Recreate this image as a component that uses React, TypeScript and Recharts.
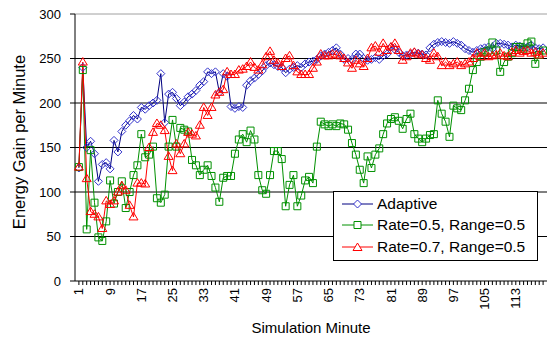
import React from 'react';
import { LineChart, Line, XAxis, YAxis, ReferenceLine } from 'recharts';

const minutes: number[] = Array.from({ length: 120 }, (_, i) => i + 1);
const xTickLabels = [1, 9, 17, 25, 33, 41, 49, 57, 65, 73, 81, 89, 97, 105, 113];
const yTicks = [0, 50, 100, 150, 200, 250, 300];

const adaptive = [
  127, 240, 150, 157, 143, 112, 131, 133, 126, 158,
  145, 168, 175, 180, 186, 182, 195, 193, 197, 200,
  203, 233, 178, 210, 212, 205, 197, 201, 207, 210,
  214, 220, 224, 235, 233, 235, 212, 233, 230, 196,
  194, 196, 195, 220, 225, 228, 232, 236, 242, 245,
  243, 241, 240, 234, 238, 240, 242, 240, 244, 246,
  247, 249, 253, 255, 257, 259, 262, 255, 249, 250,
  249, 255, 255, 250, 248, 249, 251, 249, 253, 255,
  263, 260, 257, 253, 254, 255, 257, 256, 255, 254,
  262, 266, 268, 269, 268, 267, 269, 267, 265, 261,
  259, 257, 259, 261, 262, 263, 261, 267, 267, 266,
  265, 263, 265, 264, 263, 263, 265, 262, 261, 262,
];

const rate05 = [
  128, 237, 58, 147, 88, 49, 45, 67, 113, 87,
  100, 112, 82, 100, 119, 130, 165, 139, 142, 151,
  93, 88, 97, 151, 181, 151, 172, 170, 168, 136,
  130, 119, 125, 130, 118, 105, 89, 116, 118, 118,
  143, 159, 165, 156, 169, 159, 119, 102, 98, 119,
  146, 146, 137, 84, 108, 119, 84, 96, 113, 117,
  110, 151, 179, 176, 174, 176, 174, 177, 176, 170,
  155, 142, 125, 110, 140, 127, 142, 149, 165, 177,
  182, 184, 180, 171, 182, 188, 165, 160, 156, 160,
  164, 165, 203, 188, 179, 162, 197, 194, 192, 203,
  216, 237, 246, 252, 257, 259, 268, 259, 235, 246,
  252, 256, 263, 263, 261, 267, 269, 244, 254, 259,
];

const rate07 = [
  128, 246, 115, 78, 75, 72, 59, 90, 86, 90,
  100, 107, 102, 85, 72, 110, 110, 109, 150, 167,
  177, 175, 169, 140, 124, 154, 143, 154, 167, 165,
  163, 175, 195, 186, 195, 209, 212, 215, 235, 232,
  232, 237, 238, 241, 246, 240, 237, 243, 252, 258,
  248, 245, 241, 250, 253, 242, 235, 232, 232, 232,
  239, 246, 255, 253, 253, 255, 254, 253, 250, 245,
  239, 248, 244, 241, 250, 262, 264, 257, 267, 259,
  263, 267, 259, 248, 252, 256, 257, 255, 254, 250,
  248, 256, 252, 242, 246, 242, 244, 246, 242, 244,
  246, 250, 256, 252, 256, 252, 253, 254, 256, 253,
  252, 257, 259, 256, 258, 259, 256, 257, 254, 256,
];

const seriesNames = ['Adaptive', 'Rate=0.5, Range=0.5', 'Rate=0.7, Range=0.5'];

const data = minutes.map((m, i) => ({
  minute: m,
  adaptive: adaptive[i],
  rate05: rate05[i],
  rate07: rate07[i],
}));

const FONT = '"Liberation Sans", Arial, sans-serif';
const BLUE_LINE = '#000080';
const BLUE_MARK = '#3333cc';
const GREEN = '#009000';
const RED = '#ff0000';

const diamondPath = (cx: number, cy: number) =>
  `M${cx},${cy - 4}L${cx + 4},${cy}L${cx},${cy + 4}L${cx - 4},${cy}Z`;
const squarePath = (cx: number, cy: number) =>
  `M${cx - 3.5},${cy - 3.5}h7v7h-7Z`;
const trianglePath = (cx: number, cy: number) =>
  `M${cx},${cy - 4.5}L${cx + 4.5},${cy + 3}L${cx - 4.5},${cy + 3}Z`;

const makeDot = (fn: (cx: number, cy: number) => string, color: string, prefix: string) =>
  (props: any) => {
    const { cx, cy, index } = props;
    if (cx == null || cy == null) return <g key={`${prefix}${index}`} />;
    return <path key={`${prefix}${index}`} d={fn(cx, cy)} fill="none" stroke={color} strokeWidth={1} />;
  };

const XTick = (props: any) => {
  const { x, y, payload } = props;
  const v = payload.value;
  if (!xTickLabels.includes(v)) return <g />;
  const ty = y + 1;
  return (
    <text
      x={x}
      y={ty}
      transform={`rotate(-90, ${x}, ${ty})`}
      textAnchor="end"
      dy="0.35em"
      fontSize={13}
      fontFamily={FONT}
      fill="#000"
    >
      {v}
    </text>
  );
};

const LegendRow = ({ kind, color, lineColor, label }: any) => (
  <div style={{ display: 'flex', alignItems: 'center', height: 21.5 }}>
    <svg width={36} height={12} style={{ marginLeft: 6, marginRight: 1 }}>
      <line x1={2} y1={6} x2={33} y2={6} stroke={lineColor} strokeWidth={1} />
      <path
        d={kind === 'd' ? diamondPath(17.5, 6) : kind === 's' ? squarePath(17.5, 6) : trianglePath(17.5, 6.5)}
        fill="#fff"
        stroke={color}
      />
    </svg>
    <span style={{ fontFamily: FONT, fontSize: 15.5, color: '#000', whiteSpace: 'nowrap' }}>{label}</span>
  </div>
);

export default function App() {
  return (
    <div style={{ position: 'fixed', left: 0, top: 0, width: 547, height: 350, overflow: 'hidden', background: '#fff' }}>
      <LineChart
        width={547}
        height={350}
        data={data}
        margin={{ top: 14, right: 0, bottom: 0, left: 0 }}
      >
        <XAxis
          dataKey="minute"
          type="number"
          domain={[0, 121]}
          ticks={minutes}
          interval={0}
          tick={<XTick />}
          tickSize={4}
          height={69}
          axisLine={{ stroke: '#000' }}
          tickLine={{ stroke: '#000' }}
          label={{
            content: () => (
              <text x={311} y={333} textAnchor="middle" fontSize={15} fontFamily={FONT} fill="#000">
                Simulation Minute
              </text>
            ),
          }}
        />
        <YAxis
          type="number"
          domain={[0, 300]}
          ticks={yTicks}
          interval={0}
          width={75}
          tickSize={5}
          tickMargin={9}
          tick={{ fontSize: 13, fontFamily: FONT, fill: '#000' }}
          axisLine={{ stroke: '#000' }}
          tickLine={{ stroke: '#000' }}
          label={{
            content: () => (
              <text
                x={19}
                y={142}
                transform="rotate(-90, 19, 142)"
                textAnchor="middle"
                dy="0.35em"
                fontSize={16.5}
                fontFamily={FONT}
                fill="#000"
              >
                Energy Gain per Minute
              </text>
            ),
          }}
        />
        {[50, 100, 150, 200, 250].map((v) => (
          <ReferenceLine key={v} y={v} stroke="#000" strokeWidth={1} />
        ))}
        <ReferenceLine y={300} stroke="#a0a0a0" strokeWidth={1} />
        <Line
          dataKey="adaptive"
          name={seriesNames[0]}
          stroke={BLUE_LINE}
          strokeWidth={1}
          dot={makeDot(diamondPath, BLUE_MARK, 'a')}
          activeDot={false}
          isAnimationActive={false}
        />
        <Line
          dataKey="rate05"
          name={seriesNames[1]}
          stroke={GREEN}
          strokeWidth={1}
          dot={makeDot(squarePath, GREEN, 'g')}
          activeDot={false}
          isAnimationActive={false}
        />
        <Line
          dataKey="rate07"
          name={seriesNames[2]}
          stroke={RED}
          strokeWidth={1}
          dot={makeDot(trianglePath, RED, 'r')}
          activeDot={false}
          isAnimationActive={false}
        />
      </LineChart>
      <div
        style={{
          position: 'absolute',
          left: 333,
          top: 191,
          width: 205,
          height: 70,
          boxSizing: 'border-box',
          border: '1px solid #000',
          background: '#fff',
          paddingTop: 1,
        }}
      >
        <LegendRow kind="d" color={BLUE_MARK} lineColor={BLUE_LINE} label={seriesNames[0]} />
        <LegendRow kind="s" color={GREEN} lineColor={GREEN} label={seriesNames[1]} />
        <LegendRow kind="t" color={RED} lineColor={RED} label={seriesNames[2]} />
      </div>
    </div>
  );
}
